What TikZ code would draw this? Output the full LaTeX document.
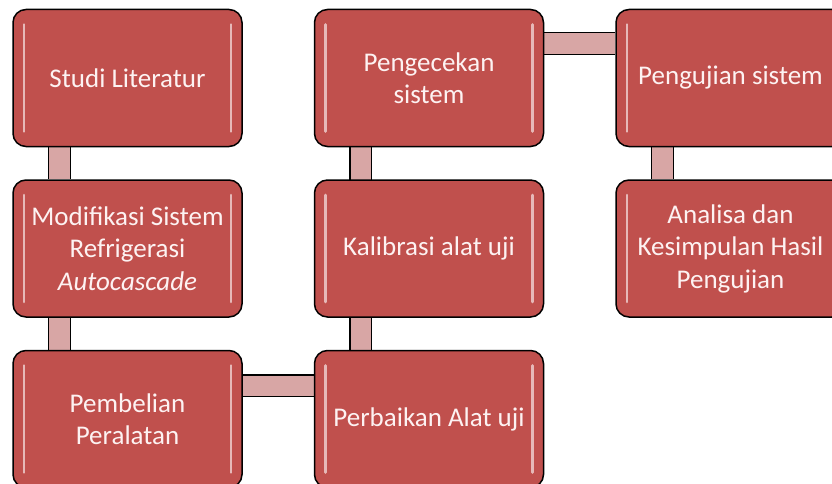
\documentclass[tikz,border=0pt]{standalone}
\usepackage{fontspec}
\setmainfont{Carlito}
\usetikzlibrary{positioning,backgrounds}
\definecolor{flowred}{RGB}{192,80,77}
\definecolor{flowpink}{RGB}{216,166,165}
\definecolor{flowtext}{RGB}{253,242,242}
\tikzset{
  flow/.style={font=\fontsize{27}{32.5}\selectfont, text=flowtext},
  flowshine/.style={draw=white!60!flowred, line width=2.6pt, line cap=round},
  flowbox/.style={
    flow, draw=black, fill=flowred, line width=1.5pt, rounded corners=13pt,
    align=center, inner sep=2pt, minimum width=229pt, minimum height=137pt,
    path picture={
      \draw[flowshine] ([xshift=11pt,yshift=-15pt]path picture bounding box.north west)
        -- ([xshift=11pt,yshift=15pt]path picture bounding box.south west);
      \draw[flowshine] ([xshift=-11pt,yshift=-15pt]path picture bounding box.north east)
        -- ([xshift=-11pt,yshift=15pt]path picture bounding box.south east);
    }
  },
  flowlink/.style={draw=black, line width=1.3pt, double=flowpink, double distance=20.5pt},
}

\begin{document}
\begin{tikzpicture}[x=1pt, y=-1pt, node distance=32pt and 71pt]
    \useasboundingbox (0,0) rectangle (832,484);

    \node[flowbox] (lit) at (127.5,78) {Studi Literatur};
    \node[flowbox, below=of lit] (mod) {Modifikasi Sistem\\Refrigerasi\\\textit{Autocascade}};
    \node[flowbox, below=of mod] (beli) {Pembelian\\Peralatan};
    \node[flowbox, right=of beli] (baik) {Perbaikan Alat uji};
    \node[flowbox, above=of baik] (kal) {Kalibrasi alat uji};
    \node[flowbox, above=of kal] (cek) {Pengecekan\\sistem};
    \node[flowbox, right=of cek] (uji) {Pengujian sistem};
    \node[flowbox, below=of uji] (ana) {Analisa dan\\Kesimpulan Hasil\\Pengujian};

    % penghubung di belakang kotak
    \begin{scope}[on background layer]
      \foreach \a/\b in {lit/mod, mod/beli, kal/cek, uji/ana}
        \draw[flowlink] ([xshift=47pt]\a.south west) -- ([xshift=47pt]\b.north west);
      \draw[flowlink] ([xshift=47pt]baik.north west) -- ([xshift=47pt]kal.south west);
      \draw[flowlink] ([yshift=-36pt]beli.north east) -- ([yshift=-36pt]baik.north west);
      \draw[flowlink] ([yshift=-35pt]cek.north east) -- ([yshift=-35pt]uji.north west);
    \end{scope}
\end{tikzpicture}
\end{document}
